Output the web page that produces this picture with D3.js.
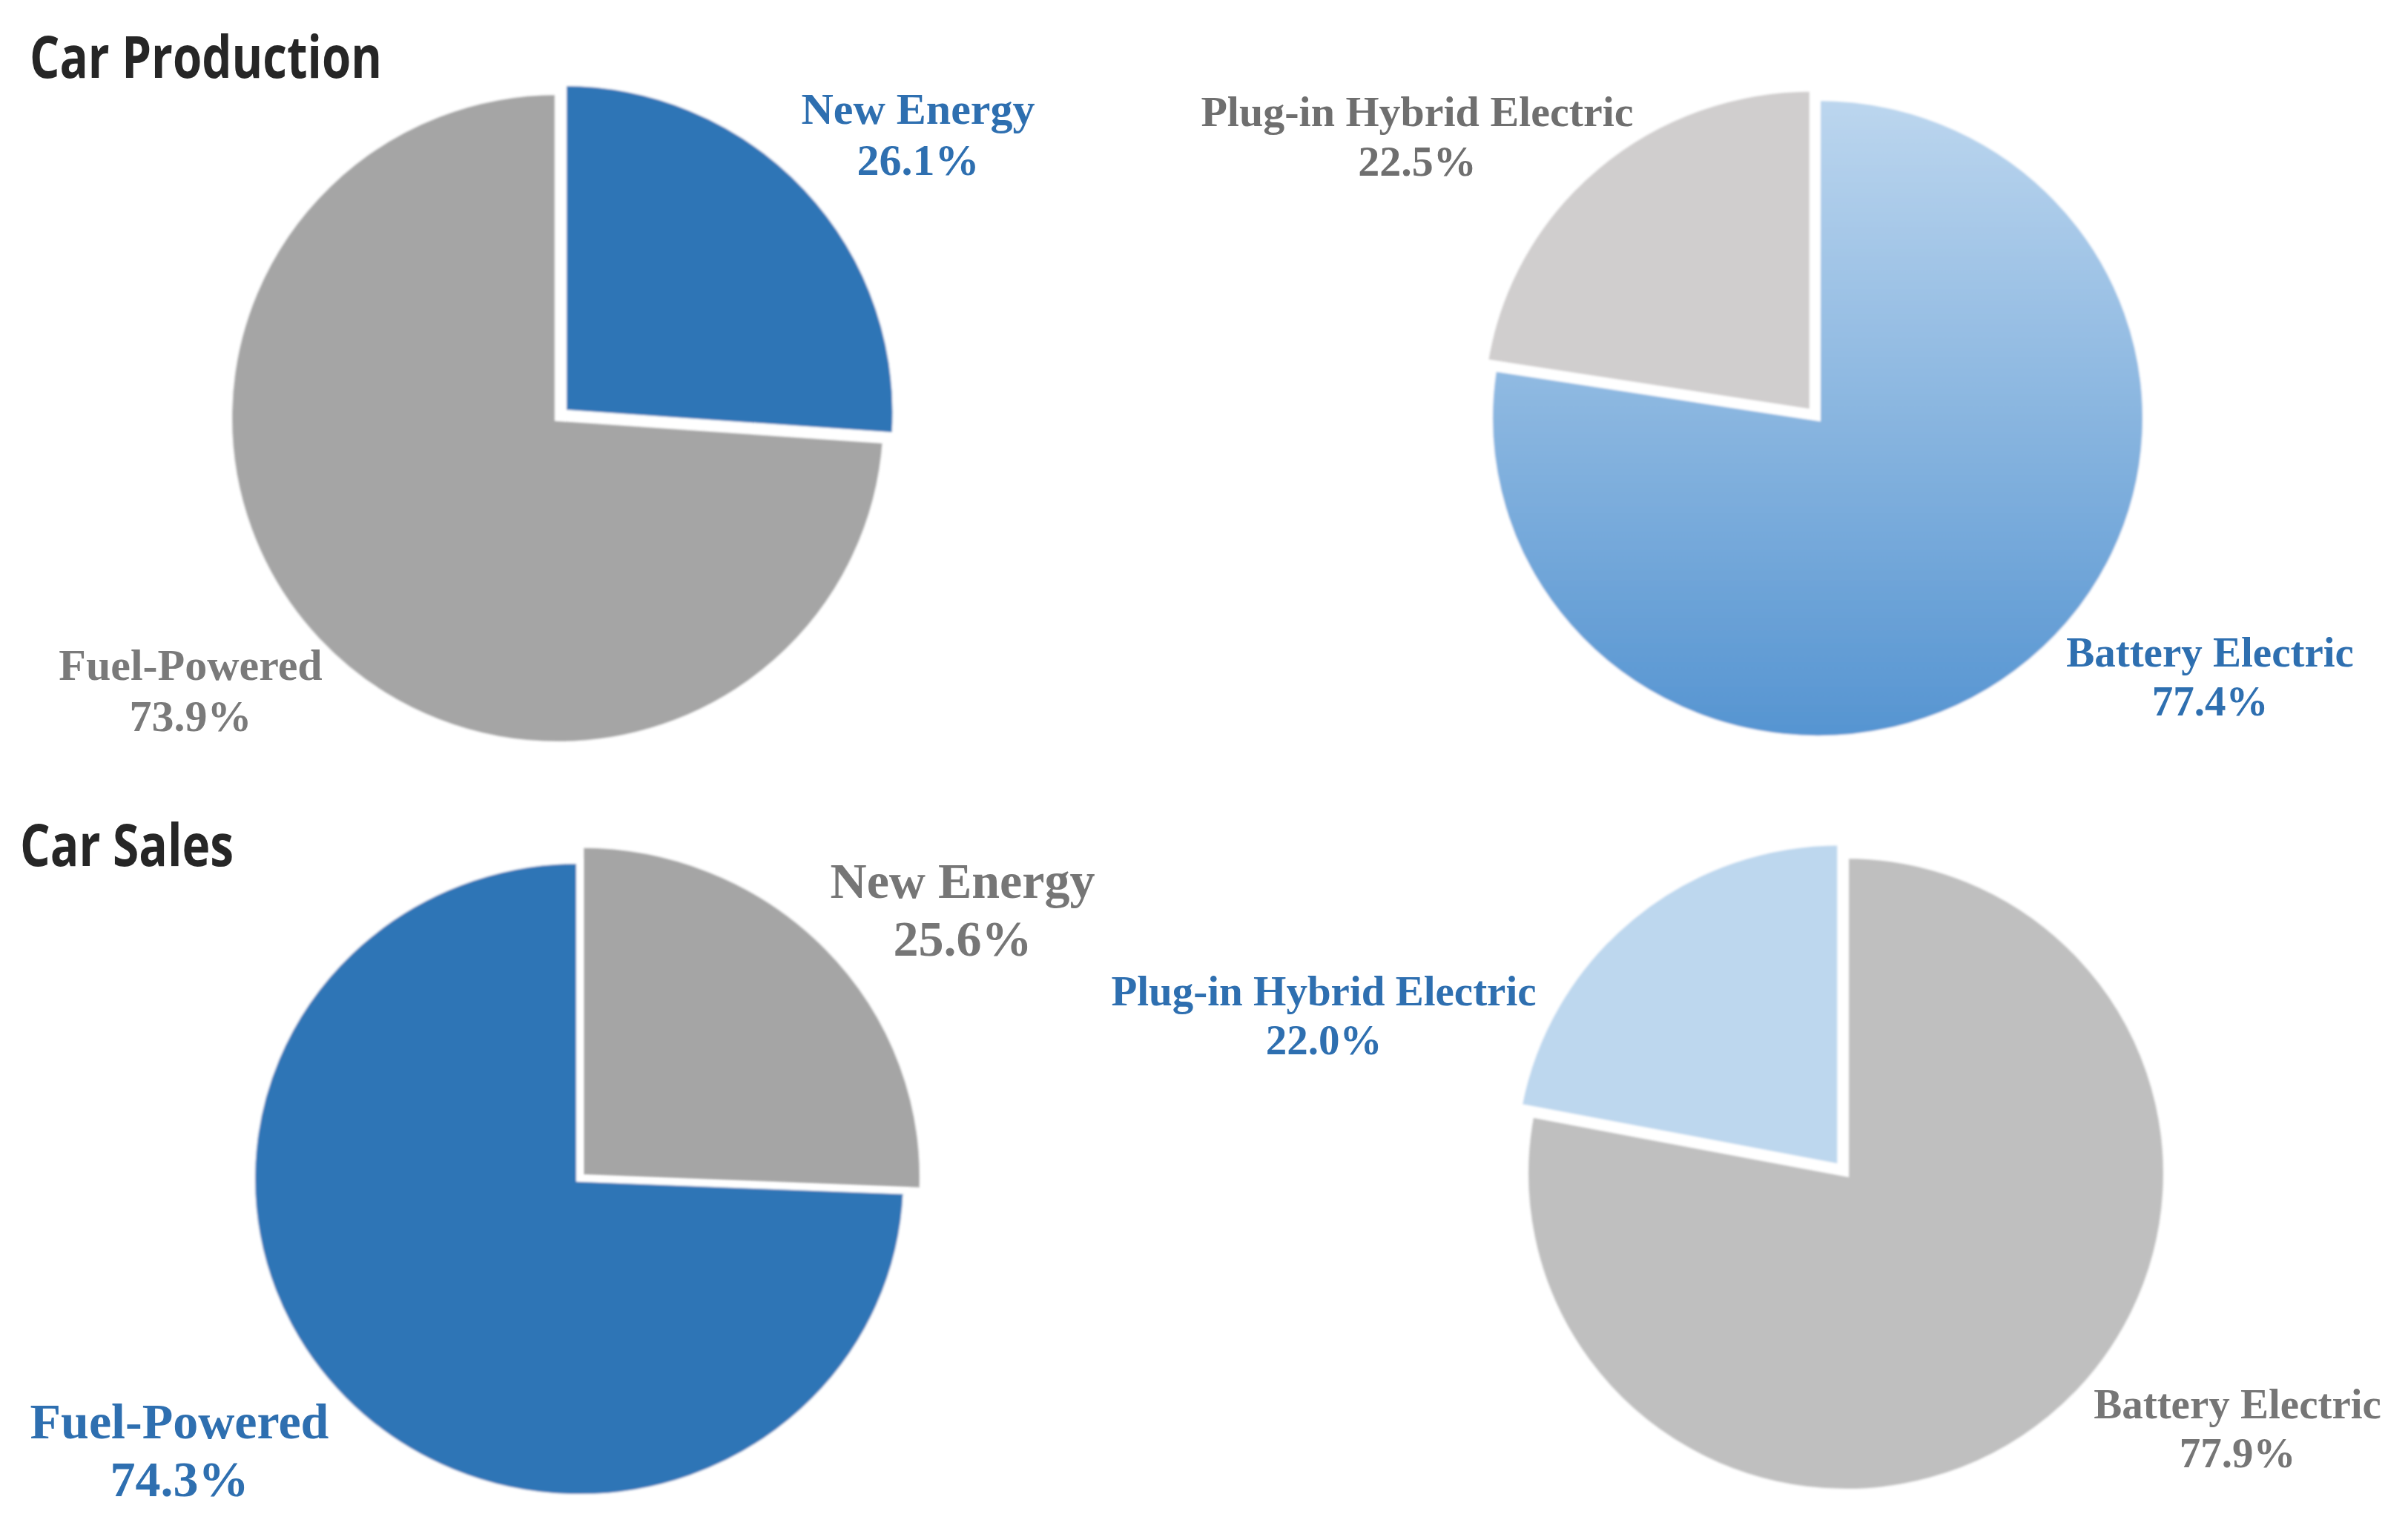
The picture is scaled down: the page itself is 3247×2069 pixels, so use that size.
<!DOCTYPE html>
<html>
<head>
<meta charset="utf-8">
<script src="https://cdn.jsdelivr.net/npm/d3@7"></script>
<style>
  html, body { margin: 0; padding: 0; background: #fff; }
  svg { display: block; }
</style>
</head>
<body>
<script>
// values
const typeLabels = ['New Energy', 'Fuel-Powered']
const productionTypeShare = [26.1, 73.9]
const salesTypeShare = [25.6, 74.3]

const nevLabels = ['Battery Electric', 'Plug-in Hybrid Electric']
const productionNevShare = [77.4, 22.5]
const salesNevShare = [77.9, 22.0]

const titles = ['Car Production', 'Car Sales']

const W = 3247, H = 2069
const blue = '#2e75b6', grey = '#a5a5a5'

const svg = d3.select('body').append('svg').attr('width', W).attr('height', H)

const defs = svg.append('defs')
const grad = defs.append('linearGradient')
	.attr('id', 'bevGrad')
	.attr('x1', 0).attr('y1', 0).attr('x2', 0).attr('y2', 1)
grad.append('stop').attr('offset', '0%').attr('stop-color', '#bcd6ee')
grad.append('stop').attr('offset', '100%').attr('stop-color', '#5594d1')

defs.append('filter').attr('id', 'soft')
	.append('feGaussianBlur').attr('stdDeviation', 1.6)

// one entry per pie: layout + colours, the values come from the arrays above
const charts = [
	{ cx: 752, cy: 564, rx: 443, ry: 440, labels: typeLabels, values: productionTypeShare,
		colors: [blue, grey], explode: 0, pull: 11, grow: 1.01,
		text: [
			{ x: 1238, y: 167, size: 60, color: '#2e6fb0' },
			{ x: 257, y: 917, size: 60, color: '#7a7a7a' }
		] },
	{ cx: 2451, cy: 564, rx: 442, ry: 432, labels: nevLabels, values: productionNevShare,
		colors: ['url(#bevGrad)', '#d0cece'], explode: 1, pull: 11, grow: 1.01,
		text: [
			{ x: 2980, y: 899, size: 57, color: '#2e6fb0' },
			{ x: 1911, y: 170, size: 58, color: '#6f6f6f' }
		] },
	{ cx: 781, cy: 1590, rx: 441, ry: 429, labels: typeLabels, values: salesTypeShare,
		colors: [grey, blue], explode: 0, pull: 3, grow: 1.045,
		text: [
			{ x: 1298, y: 1211, size: 68, color: '#767676' },
			{ x: 242, y: 1940, size: 68, color: '#2e6fb0' }
		] },
	{ cx: 2489, cy: 1583, rx: 432, ry: 429, labels: nevLabels, values: salesNevShare,
		colors: ['#bfbfbf', '#bdd7ee'], explode: 1, pull: 12, grow: 1.02,
		text: [
			{ x: 3017, y: 1913, size: 57, color: '#767676' },
			{ x: 1785, y: 1356, size: 57, color: '#2e6fb0' }
		] }
]

const pie = d3.pie().sort(null).value((d) => d.value)

charts.forEach((c) => {
	const rows = c.labels.map((name, i) => ({ name: name, value: c.values[i], i: i }))
	const arcs = pie(rows)
	const arc = d3.arc().innerRadius(0).outerRadius(c.rx)
	const bigArc = d3.arc().innerRadius(0).outerRadius(c.rx * c.grow)

	const g = svg.append('g')
		.attr('transform', 'translate(' + c.cx + ',' + c.cy + ') scale(1,' + (c.ry / c.rx) + ')')

	g.selectAll('path')
		.data(arcs)
		.enter().append('path')
			.attr('d', (d) => d.data.i === c.explode ? bigArc(d) : arc(d))
			.attr('fill', (d) => c.colors[d.data.i])
			.attr('stroke', '#fff')
			.attr('stroke-width', 8)
			.attr('stroke-linejoin', 'miter')
			.attr('filter', 'url(#soft)')
			.attr('transform', (d) => {
				if (d.data.i !== c.explode) return null
				const a = (d.startAngle + d.endAngle) / 2
				return 'translate(' + (Math.sin(a) * c.pull) + ',' + (-Math.cos(a) * c.pull) + ')'
			})

	arcs.forEach((d) => {
		const t = c.text[d.data.i]
		const lbl = svg.append('text')
			.attr('text-anchor', 'middle')
			.attr('font-family', '"Liberation Serif", "Times New Roman", serif')
			.attr('font-weight', 'bold')
			.attr('font-size', t.size)
			.attr('fill', t.color)
		lbl.append('tspan').attr('x', t.x).attr('y', t.y).text(d.data.name)
		lbl.append('tspan').attr('x', t.x).attr('y', t.y + t.size * 1.15).text(d3.format('.1f')(d.data.value) + '%')
	})
})

// section titles
const titlePos = [{ x: 40, y: 105, len: 475 }, { x: 27, y: 1168, len: 288 }]
svg.selectAll('text.title')
	.data(titles)
	.enter().append('text')
		.attr('class', 'title')
		.attr('x', (d, i) => titlePos[i].x)
		.attr('y', (d, i) => titlePos[i].y)
		.attr('textLength', (d, i) => titlePos[i].len)
		.attr('lengthAdjust', 'spacingAndGlyphs')
		.attr('font-family', '"Open Sans", "Noto Sans", sans-serif')
		.attr('font-weight', 700)
		.attr('font-size', 78)
		.attr('fill', '#262626')
		.text((d) => d)
</script>
</body>
</html>
